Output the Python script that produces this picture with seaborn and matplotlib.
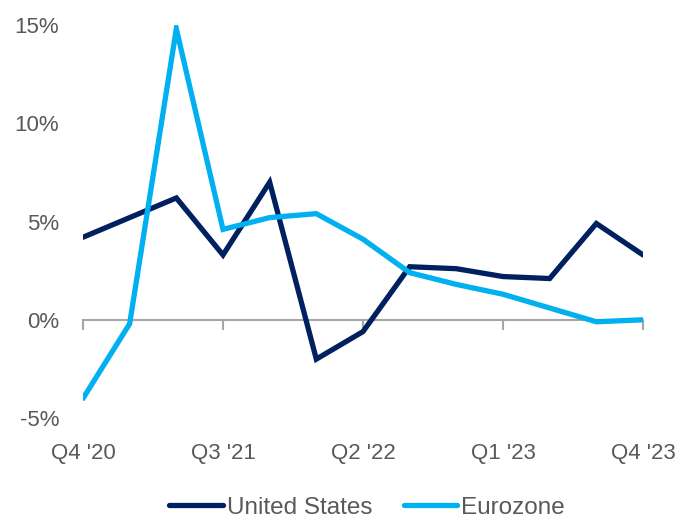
import numpy as np
import pandas as pd
import matplotlib.pyplot as plt
import seaborn as sns

# Quarterly real GDP growth, annualised (%)
quarters = ["Q4 '20", "Q1 '21", "Q2 '21", "Q3 '21", "Q4 '21", "Q1 '22", "Q2 '22",
            "Q3 '22", "Q4 '22", "Q1 '23", "Q2 '23", "Q3 '23", "Q4 '23"]
us = [4.2, 5.2, 6.2, 3.3, 7.0, -2.0, -0.6, 2.7, 2.6, 2.2, 2.1, 4.9, 3.3]
eurozone = [-4.0, -0.2, 14.8, 4.6, 5.2, 5.4, 4.1, 2.4, 1.8, 1.3, 0.6, -0.1, 0.0]
series_names = ["United States", "Eurozone"]
tick_labels = ["Q4 '20", "Q3 '21", "Q2 '22", "Q1 '23", "Q4 '23"]

df = pd.DataFrame({
    "idx": list(range(len(quarters))) * 2,
    "Quarter": quarters * 2,
    "Growth": us + eurozone,
    "Region": [series_names[0]] * len(quarters) + [series_names[1]] * len(quarters),
})

sns.set_style("white")
plt.rcParams['font.family'] = ['Liberation Sans', 'DejaVu Sans']
grey = "#595959"

fig = plt.figure(figsize=(6.95, 5.2), dpi=100)
ax = fig.add_axes([0.1194, 0.196, 0.8058, 0.756])

sns.lineplot(data=df, x="idx", y="Growth", hue="Region",
             palette={"United States": "#002060", "Eurozone": "#00B0F0"},
             linewidth=3.8, ax=ax, legend=False, solid_joinstyle="miter")

ax.set_xlim(0, len(quarters) - 1)
ax.set_ylim(-5, 15)
ax.set_yticks([-5, 0, 5, 10, 15])
ax.set_yticklabels([f"{v}%" for v in [-5, 0, 5, 10, 15]])
ax.set_xticks([quarters.index(q) for q in tick_labels])
ax.set_xticklabels(tick_labels)
ax.tick_params(axis="both", length=0, labelsize=16, labelcolor=grey)
ax.tick_params(axis="y", pad=17)
ax.tick_params(axis="x", pad=18)
for s in ax.spines.values():
    s.set_visible(False)
ax.set_xlabel("")
ax.set_ylabel("")

# zero line with tick marks
zero = ax.secondary_xaxis(0.25)
zero.set_xticks([quarters.index(q) for q in tick_labels])
zero.tick_params(length=7, width=1.5, color="#a6a6a6", labelbottom=False)
zero.spines["bottom"].set_color("#a6a6a6")
zero.spines["bottom"].set_linewidth(1.5)
ax.lines[0].set_zorder(3)
ax.lines[1].set_zorder(3)

handles = [plt.Line2D([], [], color=c, lw=3.8, solid_capstyle="round")
           for c in ["#002060", "#00B0F0"]]
fig.legend(handles, series_names, loc="lower center", ncol=2, frameon=False,
           bbox_to_anchor=(0.528, 0.0), borderaxespad=0.0, borderpad=0.05,
           fontsize=17.5, labelcolor=grey,
           handlelength=2.2, handletextpad=0.15, columnspacing=1.3)

plt.savefig("out.png", dpi=100)
